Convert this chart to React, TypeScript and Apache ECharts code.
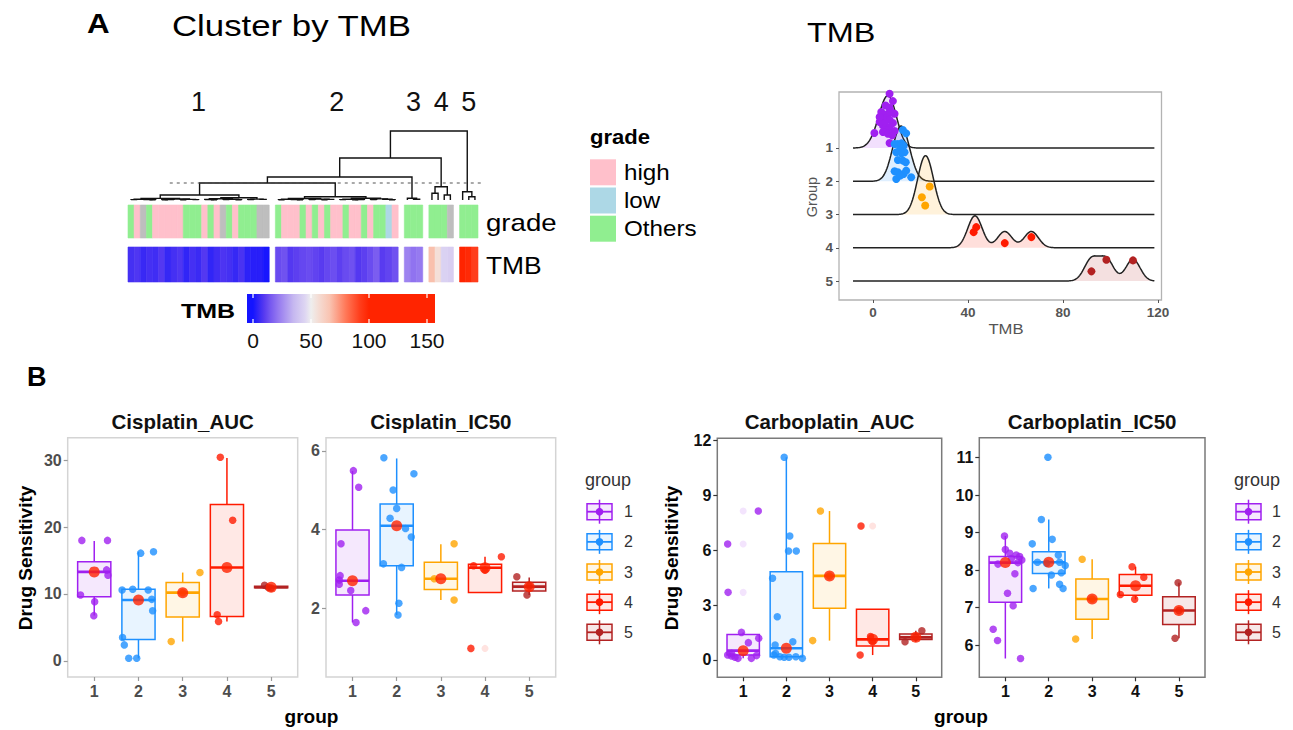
import React, { useEffect, useRef } from 'react';
import * as echarts from 'echarts';

const FONT = '"Liberation Sans", Arial, Helvetica, sans-serif';
const W = 1293;
const H = 730;

// ---------- groups ----------
const groupNames = ['1', '2', '3', '4', '5'];
const groupColors = ['#a020f0', '#1e90ff', '#ffa500', '#ff1a00', '#b22222'];
const medianDotColor = '#ff2200';

// ---------- panel A : annotation (grade) per sample, in dendrogram order ----------
const gradeLevels = ['high', 'low', 'Others'];
const gradeColors = ['#ffc0cb', '#add8e6', '#90ee90', '#bebebe']; // index 3 = NA
const gradeC1 = [2, 0, 3, 2, 0, 0, 0, 0, 0, 2, 2, 2, 0, 2, 0, 3, 2, 0, 2, 2, 2, 3, 3];
const gradeC2 = [2, 0, 0, 0, 2, 0, 2, 0, 2, 0, 0, 2, 0, 0, 2, 0, 2, 2, 1, 0];
const gradeC3 = [2, 2, 2];
const gradeC4 = [2, 2, 2, 3];
const gradeC5 = [2, 2, 2];

// ---------- TMB per sample (same order) and vertical jitter of ridge points ----------
const tmbC1 = [7.0, 8.4, 5.3, 7.0, 6.3, 9.1, 4.9, 7.0, 8.4, 4.2, 7.0, 5.6, 9.1, 4.2, 6.3, 8.1, 7.0, 4.9, 7.7, 3.5, 2.8, 2.8, 0.6];
const ridgeJitC1 = [1.63, 1.41, 1.28, 1.21, 1.03, 1.03, 0.93, 0.85, 0.75, 0.68, 0.63, 0.53, 0.51, 0.48, 0.43, 0.38, 0.15, 0.78, 1.08, 1.08, 0.78, 0.93, 0.45];
const tmbC2 = [12.6, 14.0, 9.1, 10.5, 12.0, 12.9, 11.2, 9.8, 12.0, 13.3, 10.5, 12.6, 13.8, 9.1, 10.5, 12.9, 16.1, 9.8, 11.5, 14.0];
const ridgeJitC2 = [1.54, 1.44, 1.12, 1.12, 1.14, 1.07, 0.92, 0.87, 0.84, 0.87, 0.64, 0.62, 0.57, 0.3, 0.27, 0.22, 0.12, 0.07, 0.17, 0.32];
const tmbC3 = [23.9, 20.6, 22.0];
const ridgeJitC3 = [0.84, 0.52, 0.27];
const tmbC4 = [66.7, 55.5, 43.5, 42.4];
const ridgeJitC4 = [0.32, 0.14, 0.62, 0.47];
const tmbC5 = [109.5, 98.3, 92.0];
const ridgeJitC5 = [0.62, 0.64, 0.29];

// ---------- dendrogram: [height, left, right], leaves = local sample index ----------
const treeC1 = [5,
  [1.6, [0.8, [0.4, 0, 1], [0.5, 2, [0.3, 3, 4]]], [1.0, [0.5, [0.2, 5, 6], 7], [0.6, [0.3, 8, 9], [0.4, 10, 11]]]],
  [2.2, [1.2, [0.5, 12, [0.3, 13, 14]], [0.7, [0.4, 15, 16], [0.3, 17, 18]]], [0.9, [0.5, 19, 20], [0.6, 21, 22]]]];
const treeC2 = [3.3,
  [1.5, [0.7, [0.3, 0, 1], [0.5, 2, [0.2, 3, 4]]], [0.9, [0.4, 5, 6], [0.6, [0.3, 7, 8], 9]]],
  [1.8, [0.8, [0.4, 10, 11], [0.5, [0.2, 12, 13], 14]], [1.1, [0.5, 15, 16], [0.7, 17, [0.3, 18, 19]]]]];
const treeC3 = [1.7, 0, [0.8, 1, 2]];
const treeC4 = [13.3, [6.7, 0, 1], [5, 2, 3]];
const treeC5 = [8.3, 0, [3.3, 1, 2]];
const upperTree = [69, [42, [23, [17, 'c0', 'c1'], 'c2'], 'c3'], 'c4'];
const cutHeight = 17;
const cutSpan = [6.3, 57.0];
const dendroMaxHeight = 69;

// ---------- TMB colour scale & legend ----------
const tmbColorStops = [
  [0, [20, 20, 255]], [5, [55, 40, 245]], [10, [90, 60, 240]], [15, [118, 88, 240]],
  [22, [150, 122, 240]], [35, [198, 184, 240]], [45, [222, 214, 242]], [50, [238, 238, 238]],
  [56, [244, 222, 214]], [66, [249, 196, 178]], [80, [255, 120, 88]], [92, [255, 62, 28]],
  [100, [255, 36, 0]], [160, [255, 36, 0]],
];
const tmbLegendTicks = [0, 50, 100, 150];
const tmbLegendRange = [-5.17, 156.9];

// ---------- ridge ----------
const ridgeXTicks = [0, 40, 80, 120];
const ridgeBandwidth = 3.0;
const ridgeScale = 1.77;

// ---------- panel B : drug sensitivity ----------
const drugTitles = ['Cisplatin_AUC', 'Cisplatin_IC50', 'Carboplatin_AUC', 'Carboplatin_IC50'];

// boxes: [lower whisker, Q1, median, Q3, upper whisker]
const cisAucBoxes = [[6.8, 9.6, 13.3, 14.8, 17.9], [0.4, 3.2, 9.1, 10.7, 16.3], [2.9, 6.55, 10.2, 11.7, 13.2], [5.9, 6.65, 13.95, 23.35, 30.3], [10.9, 10.95, 11.0, 11.15, 11.3]];
const cisAucValues = [[18.0, 18.0, 9.85, 8.86, 6.77, 13.6, 12.8], [16.1, 16.3, 10.6, 10.7, 10.6, 9.2, 7.5, 3.5, 2.4, 0.4, 0.4], [13.2, 10.2, 2.9], [30.4, 21.0, 6.9, 5.9], [11.3, 10.9, 11.0]];
const cisAucJitter = [[-0.28, 0.3, -0.31, 0.01, -0.01, 0.28, 0.31], [0.05, 0.34, -0.37, -0.13, 0.22, 0.3, 0.32, -0.36, -0.32, -0.22, -0.04], [0.39, 0.0, -0.26], [-0.15, 0.13, -0.22, -0.19], [-0.15, 0.0, -0.07]];
const cisAucOutliers = [[], [], [], [], []];
const cisAucTicks = [0, 10, 20, 30];

const cisIc50Boxes = [[1.64, 2.34, 2.7, 3.99, 5.49], [1.83, 3.08, 4.1, 4.65, 5.81], [2.21, 2.48, 2.75, 3.17, 3.63], [2.4, 2.4, 3.03, 3.12, 3.31], [2.34, 2.44, 2.55, 2.66, 2.78]];
const cisIc50Values = [[5.5, 5.08, 3.64, 2.83, 2.72, 2.61, 2.45, 1.94, 1.64], [5.83, 5.42, 5.01, 4.54, 4.29, 4.03, 3.81, 3.13, 3.04, 2.13, 1.83], [3.64, 2.75, 2.21], [3.31, 3.08, 2.97, 0.98], [2.8, 2.34, 2.57]];
const cisIc50Jitter = [[0.02, 0.14, -0.26, -0.28, -0.3, -0.3, -0.04, 0.3, 0.08], [-0.29, 0.39, -0.08, 0.0, -0.15, 0.2, 0.33, -0.3, 0.11, 0.05, 0.03], [0.3, -0.15, 0.3], [0.37, -0.26, 0.0, -0.32], [-0.28, -0.05, 0.0]];
const cisIc50Outliers = [[], [], [], [0.98], []];
const cisIc50Ticks = [2, 4, 6];

const carAucBoxes = [[0.09, 0.27, 0.51, 1.4, 1.51], [0.09, 0.18, 0.64, 4.83, 11.09], [1.06, 2.83, 4.6, 6.38, 8.15], [0.27, 0.77, 1.13, 2.77, 2.77], [1.0, 1.12, 1.24, 1.42, 1.6]];
const carAucValues = [[8.15, 6.35, 3.7, 1.51, 1.19, 0.95, 0.27, 0.22, 0.15, 0.09, 0.09, 0.36, 0.24], [11.09, 6.78, 5.96, 5.96, 4.47, 2.37, 0.82, 1.0, 0.36, 0.18, 0.15, 0.15, 0.18, 0.09, 0.27], [8.15, 4.6, 1.06], [7.33, 0.27, 1.28, 1.0], [1.6, 1.0, 1.24]];
const carAucJitter = [[0.35, -0.36, -0.35, -0.04, 0.36, 0.12, -0.36, -0.27, -0.19, -0.12, 0.19, -0.27, 0.31], [-0.05, 0.08, 0.05, 0.23, -0.32, -0.21, -0.26, 0.15, -0.25, -0.15, -0.05, 0.06, 0.22, 0.37, -0.29], [-0.21, 0.0, -0.39], [-0.27, -0.29, -0.05, 0.0], [0.14, -0.25, 0.0]];
const carAucOutliers = [[8.15, 6.35, 3.7], [], [], [7.33], []];
const carAucTicks = [0, 3, 6, 9, 12];

const carIc50Boxes = [[5.64, 7.14, 8.2, 8.36, 8.91], [7.51, 7.91, 8.21, 8.49, 9.35], [6.16, 6.69, 7.23, 7.76, 8.29], [7.22, 7.33, 7.58, 7.88, 8.09], [6.18, 6.55, 6.92, 7.29, 7.66]];
const carIc50Values = [[8.91, 8.55, 8.45, 8.4, 8.36, 8.27, 8.16, 7.9, 7.38, 7.05, 6.42, 6.12, 5.64, 8.2, 8.31], [11.01, 9.35, 8.82, 8.7, 8.21, 8.4, 8.21, 8.12, 7.93, 7.87, 7.62, 7.51, 7.51, 8.18], [8.29, 6.16, 7.23], [8.09, 7.81, 7.35, 7.22], [7.66, 6.18, 6.92]];
const carIc50Jitter = [[-0.02, 0.0, 0.1, 0.25, 0.33, 0.38, -0.17, 0.22, 0.05, 0.18, -0.28, -0.18, 0.35, 0.29, 0.14], [-0.02, -0.17, 0.08, -0.38, -0.26, 0.22, 0.25, 0.38, 0.29, 0.06, 0.25, 0.33, -0.36, -0.05], [-0.23, -0.38, 0.0], [-0.08, 0.19, -0.35, -0.02], [-0.02, -0.09, 0.0]];
const carIc50Outliers = [[], [11.01], [], [], []];
const carIc50Ticks = [6, 7, 8, 9, 10, 11];

// ---------- helpers ----------
function hexRgb(hex: string) {
  const n = parseInt(hex.slice(1), 16);
  return [(n >> 16) & 255, (n >> 8) & 255, n & 255];
}
function rgba(hex: string, a: number) {
  const [r, g, b] = hexRgb(hex);
  return `rgba(${r},${g},${b},${a})`;
}
function tmbColor(v: number) {
  const s = tmbColorStops as any[];
  if (v <= s[0][0]) return `rgb(${s[0][1].join(',')})`;
  for (let i = 1; i < s.length; i++) {
    if (v <= s[i][0]) {
      const t = (v - s[i - 1][0]) / (s[i][0] - s[i - 1][0]);
      const c = s[i - 1][1].map((c0: number, k: number) => Math.round(c0 + (s[i][1][k] - c0) * t));
      return `rgb(${c.join(',')})`;
    }
  }
  return `rgb(${s[s.length - 1][1].join(',')})`;
}

function txt(x: number, y: number, text: string, size: number, o: any = {}) {
  return {
    type: 'text', x, y, silent: true,
    scaleX: o.scaleX ?? 1, rotation: o.rotation ?? 0,
    style: {
      text, fontSize: size, fontFamily: FONT, fontWeight: o.bold ? 'bold' : 'normal',
      fill: o.color ?? '#000', align: o.align ?? 'left', verticalAlign: 'middle',
    },
  };
}

function buildOption() {
  const grid: any[] = [];
  const xAxis: any[] = [];
  const yAxis: any[] = [];
  const series: any[] = [];
  const els: any[] = [];
  const hidden = (gridIndex: number, min: number, max: number, inverse = false) => ({
    type: 'value', gridIndex, min, max, inverse, show: false, splitLine: { show: false }, axisLine: { onZero: false },
  });

  // ----- heatmap layout (clusters separated by one empty column) -----
  const clusterGrades = [gradeC1, gradeC2, gradeC3, gradeC4, gradeC5];
  const clusterTmb = [tmbC1, tmbC2, tmbC3, tmbC4, tmbC5];
  const clusterTrees: any[] = [treeC1, treeC2, treeC3, treeC4, treeC5];
  const ridgeJit = [ridgeJitC1, ridgeJitC2, ridgeJitC3, ridgeJitC4, ridgeJitC5];
  const clusterStart: number[] = [];
  let pos = 0;
  clusterGrades.forEach((g) => { clusterStart.push(pos); pos += g.length + 1; });
  const totalCols = pos - 1;

  // grid 0 dendrogram
  grid.push({ left: 128, top: 131, width: 350, height: 69 });
  xAxis.push(hidden(0, -0.5, totalCols - 0.5));
  yAxis.push(hidden(0, 0, dendroMaxHeight));
  // grid 1 grade row
  grid.push({ left: 128, top: 205, width: 350, height: 33 });
  xAxis.push(hidden(1, -0.5, totalCols - 0.5));
  yAxis.push(hidden(1, 0, 1));
  // grid 2 TMB row
  grid.push({ left: 128, top: 247, width: 350, height: 35 });
  xAxis.push(hidden(2, -0.5, totalCols - 0.5));
  yAxis.push(hidden(2, 0, 1));

  // dendrogram merges
  const merges: number[][] = [];
  const layout = (node: any, offset: number): { x: number; h: number } => {
    if (typeof node === 'number') return { x: offset + node, h: 0 };
    if (typeof node === 'string') {
      const k = parseInt(node.slice(1), 10);
      return layout(clusterTrees[k], clusterStart[k]);
    }
    const l = layout(node[1], offset);
    const r = layout(node[2], offset);
    merges.push([l.x, l.h, r.x, r.h, node[0]]);
    return { x: (l.x + r.x) / 2, h: node[0] };
  };
  layout(upperTree, 0);
  series.push({
    type: 'custom', xAxisIndex: 0, yAxisIndex: 0, data: merges, silent: true,
    renderItem: (_p: any, api: any) => {
      const a = api.coord([api.value(0), api.value(1)]);
      const b = api.coord([api.value(0), api.value(4)]);
      const c = api.coord([api.value(2), api.value(4)]);
      const d = api.coord([api.value(2), api.value(3)]);
      return { type: 'polyline', shape: { points: [a, b, c, d] }, style: { stroke: '#111', lineWidth: 1.4, fill: 'none' } };
    },
  });
  series.push({
    type: 'custom', xAxisIndex: 0, yAxisIndex: 0, data: [[cutSpan[0], cutSpan[1], cutHeight]], silent: true,
    renderItem: (_p: any, api: any) => {
      const a = api.coord([api.value(0), api.value(2)]);
      const b = api.coord([api.value(1), api.value(2)]);
      return { type: 'line', shape: { x1: a[0], y1: a[1], x2: b[0], y2: b[1] }, style: { stroke: '#555', lineWidth: 1.2, lineDash: [3, 4] } };
    },
  });
  // cluster numbers above the dendrogram
  const clusterCenters = clusterGrades.map((g, c) => [clusterStart[c] + (g.length - 1) / 2, 98, c]);
  series.push({
    type: 'custom', xAxisIndex: 0, yAxisIndex: 0, data: clusterCenters, silent: true,
    renderItem: (_p: any, api: any) => {
      const p = api.coord([api.value(0), api.value(1)]);
      return { type: 'text', x: p[0], y: p[1], style: { text: groupNames[api.value(2)], fontSize: 27, fontFamily: FONT, fill: '#111', align: 'center', verticalAlign: 'middle' } };
    },
  });

  // grade cells
  const gradeCells: number[][] = [];
  const tmbCells: number[][] = [];
  clusterGrades.forEach((g, c) => g.forEach((code, i) => gradeCells.push([clusterStart[c] + i, code])));
  clusterTmb.forEach((t, c) => t.forEach((v, i) => tmbCells.push([clusterStart[c] + i, v])));
  const cellRender = (colorOf: (v: number) => string) => (_p: any, api: any) => {
    const x = api.value(0);
    const a = api.coord([x - 0.5, 1]);
    const b = api.coord([x + 0.5, 0]);
    const col = colorOf(api.value(1));
    return { type: 'rect', shape: { x: a[0], y: a[1], width: b[0] - a[0], height: b[1] - a[1] }, style: { fill: col, stroke: col, lineWidth: 0.6 } };
  };
  series.push({ type: 'custom', xAxisIndex: 1, yAxisIndex: 1, data: gradeCells, silent: true, renderItem: cellRender((v) => gradeColors[v]) });
  series.push({ type: 'custom', xAxisIndex: 2, yAxisIndex: 2, data: tmbCells, silent: true, renderItem: cellRender(tmbColor) });

  // grid 3 TMB colour legend
  grid.push({ left: 247, top: 294, width: 188, height: 29 });
  xAxis.push({
    type: 'value', gridIndex: 3, min: tmbLegendRange[0], max: tmbLegendRange[1],
    axisLine: { show: false, onZero: false }, splitLine: { show: false },
    axisTick: { show: false },
    axisLabel: { customValues: tmbLegendTicks, fontSize: 21, fontFamily: FONT, color: '#111', margin: 7 },
  });
  yAxis.push(hidden(3, 0, 1));
  series.push({
    type: 'custom', xAxisIndex: 3, yAxisIndex: 3, silent: true,
    data: [[tmbLegendRange[0], tmbLegendRange[1]]],
    renderItem: (_p: any, api: any) => {
      const v0 = api.value(0), v1 = api.value(1);
      const a = api.coord([v0, 1]);
      const b = api.coord([v1, 0]);
      const stops: any[] = [{ offset: 0, color: tmbColor(v0) }];
      (tmbColorStops as any[]).forEach((s) => {
        if (s[0] > v0 && s[0] < v1) stops.push({ offset: (s[0] - v0) / (v1 - v0), color: tmbColor(s[0]) });
      });
      stops.push({ offset: 1, color: tmbColor(v1) });
      const children: any[] = [{
        type: 'rect', shape: { x: a[0], y: a[1], width: b[0] - a[0], height: b[1] - a[1] },
        style: { fill: new echarts.graphic.LinearGradient(0, 0, 1, 0, stops) },
      }];
      tmbLegendTicks.forEach((t) => {
        const p = api.coord([t, 0]);
        children.push({ type: 'line', shape: { x1: p[0], y1: a[1], x2: p[0], y2: a[1] + 4 }, style: { stroke: '#fff', lineWidth: 1.2 } });
        children.push({ type: 'line', shape: { x1: p[0], y1: b[1] - 4, x2: p[0], y2: b[1] }, style: { stroke: '#fff', lineWidth: 1.2 } });
      });
      return { type: 'group', children };
    },
  });

  // grid 4 ridge plot
  grid.push({ left: 839, top: 92, width: 322.5, height: 208, show: true, borderColor: '#b3b3b3', borderWidth: 1.3, backgroundColor: 'transparent' });
  xAxis.push({
    type: 'value', gridIndex: 4, min: -14.3, max: 121.5, position: 'bottom',
    axisLine: { show: false, onZero: false }, splitLine: { show: false },
    axisTick: { show: true, customValues: ridgeXTicks, length: 3, lineStyle: { color: '#555', width: 1 } },
    axisLabel: { customValues: ridgeXTicks, fontSize: 13.5, fontWeight: 'bold', fontFamily: FONT, color: '#555', margin: 5 },
  });
  const ridgeYTicks = groupNames.map((_, i) => i + 1);
  yAxis.push({
    type: 'value', gridIndex: 4, min: -0.684, max: 5.571, inverse: true, position: 'left',
    axisLine: { show: false, onZero: false }, splitLine: { show: false },
    axisTick: { show: true, customValues: ridgeYTicks, length: 3, lineStyle: { color: '#555', width: 1 } },
    axisLabel: { customValues: ridgeYTicks, fontSize: 13.5, fontWeight: 'bold', fontFamily: FONT, color: '#555', margin: 6 },
  });
  const allT = clusterTmb.flat();
  const lo = Math.min(...allT) - 3 * ridgeBandwidth;
  const hi = Math.max(...allT) + 3 * ridgeBandwidth;
  const NG = 320;
  const xs = Array.from({ length: NG }, (_, i) => lo + ((hi - lo) * i) / (NG - 1));
  const dens = clusterTmb.map((arr) => xs.map((x) =>
    arr.reduce((s, v) => s + Math.exp(-0.5 * ((x - v) / ridgeBandwidth) ** 2), 0) / (arr.length * ridgeBandwidth * Math.sqrt(2 * Math.PI))));
  const maxD = Math.max(...dens.flat());
  clusterTmb.forEach((_, g) => {
    series.push({
      type: 'line', xAxisIndex: 4, yAxisIndex: 4, symbol: 'none', silent: true, clip: false,
      data: xs.map((x, i) => [x, g + 1 - (dens[g][i] / maxD) * ridgeScale]),
      lineStyle: { color: '#222', width: 1.5 },
      areaStyle: { color: rgba(groupColors[g], 0.2), origin: g + 1 },
      z: 2 + g,
    });
  });
  clusterTmb.forEach((arr, g) => {
    series.push({
      type: 'scatter', xAxisIndex: 4, yAxisIndex: 4, symbolSize: 8, silent: true, z: 10,
      itemStyle: { color: groupColors[g], opacity: 1 },
      data: arr.map((v, i) => [v, g + 1 - ridgeJit[g][i]]),
    });
  });

  // ----- panel B -----
  const panels = [
    { title: drugTitles[0], boxes: cisAucBoxes, values: cisAucValues, jitter: cisAucJitter, outliers: cisAucOutliers, ticks: cisAucTicks, left: 67.7, top: 437.7, width: 230, height: 239.3, yMin: -2.39, yMax: 33.33, dark: false },
    { title: drugTitles[1], boxes: cisIc50Boxes, values: cisIc50Values, jitter: cisIc50Jitter, outliers: cisIc50Outliers, ticks: cisIc50Ticks, left: 326, top: 437.7, width: 229.7, height: 239.3, yMin: 0.253, yMax: 6.338, dark: false },
    { title: drugTitles[2], boxes: carAucBoxes, values: carAucValues, jitter: carAucJitter, outliers: carAucOutliers, ticks: carAucTicks, left: 717.3, top: 438.3, width: 224.4, height: 239, yMin: -0.947, yMax: 12.13, dark: true },
    { title: drugTitles[3], boxes: carIc50Boxes, values: carIc50Values, jitter: carIc50Jitter, outliers: carIc50Outliers, ticks: carIc50Ticks, left: 979.3, top: 437.7, width: 225.7, height: 239.6, yMin: 5.138, yMax: 11.534, dark: true },
  ];
  const xCats = groupNames.map((_, i) => i + 1);
  panels.forEach((p, k) => {
    const gi = 5 + k;
    const frame = p.dark ? '#7a7a7a' : '#d4d4d4';
    const tickCol = p.dark ? '#333' : '#9a9a9a';
    const labCol = p.dark ? '#111' : '#4d4d4d';
    grid.push({ left: p.left, top: p.top, width: p.width, height: p.height, show: true, borderColor: frame, borderWidth: 1.5, backgroundColor: 'transparent' });
    xAxis.push({
      type: 'value', gridIndex: gi, min: 0.4, max: 5.6, position: 'bottom',
      axisLine: { show: false, onZero: false }, splitLine: { show: false },
      axisTick: { show: true, customValues: xCats, length: 4, lineStyle: { color: tickCol, width: 1.2 } },
      axisLabel: { customValues: xCats, formatter: (v: number) => groupNames[Math.round(v) - 1], fontSize: 16, fontWeight: 'bold', fontFamily: FONT, color: labCol, margin: 6 },
    });
    yAxis.push({
      type: 'value', gridIndex: gi, min: p.yMin, max: p.yMax, position: 'left',
      axisLine: { show: false, onZero: false }, splitLine: { show: false },
      axisTick: { show: true, customValues: p.ticks, length: 4, lineStyle: { color: tickCol, width: 1.2 } },
      axisLabel: { customValues: p.ticks, fontSize: 16, fontWeight: 'bold', fontFamily: FONT, color: labCol, margin: 6 },
    });
    series.push({
      type: 'custom', xAxisIndex: gi, yAxisIndex: gi, silent: true, z: 2,
      data: p.boxes.map((b, g) => [g + 1, ...b, g]),
      renderItem: (_pp: any, api: any) => {
        const x = api.value(0);
        const g = api.value(6);
        const col = groupColors[g];
        const pl = api.coord([x, api.value(1)]);
        const q1 = api.coord([x, api.value(2)]);
        const md = api.coord([x, api.value(3)]);
        const q3 = api.coord([x, api.value(4)]);
        const ph = api.coord([x, api.value(5)]);
        const hw = api.size([0.75, 0])[0] / 2;
        return {
          type: 'group', children: [
            { type: 'line', shape: { x1: pl[0], y1: q1[1], x2: pl[0], y2: pl[1] }, style: { stroke: col, lineWidth: 1.5 } },
            { type: 'line', shape: { x1: ph[0], y1: q3[1], x2: ph[0], y2: ph[1] }, style: { stroke: col, lineWidth: 1.5 } },
            { type: 'rect', shape: { x: q3[0] - hw, y: q3[1], width: 2 * hw, height: q1[1] - q3[1] }, style: { fill: rgba(col, 0.1), stroke: col, lineWidth: 1.5 } },
            { type: 'line', shape: { x1: md[0] - hw, y1: md[1], x2: md[0] + hw, y2: md[1] }, style: { stroke: col, lineWidth: 2.6 } },
          ],
        };
      },
    });
    const outl: any[] = [];
    p.outliers.forEach((arr, g) => arr.forEach((v) => outl.push({ value: [g + 1, v], itemStyle: { color: groupColors[g], opacity: 0.12 } })));
    series.push({ type: 'scatter', xAxisIndex: gi, yAxisIndex: gi, symbolSize: 7, silent: true, z: 3, data: outl });
    const pts: any[] = [];
    p.values.forEach((arr, g) => arr.forEach((v, i) => pts.push({ value: [g + 1 + p.jitter[g][i], v], itemStyle: { color: groupColors[g] } })));
    series.push({ type: 'scatter', xAxisIndex: gi, yAxisIndex: gi, symbolSize: 7.5, silent: true, z: 4, data: pts });
    series.push({
      type: 'scatter', xAxisIndex: gi, yAxisIndex: gi, symbolSize: 11, silent: true, z: 5,
      itemStyle: { color: medianDotColor }, data: p.boxes.map((b, g) => [g + 1, b[2]]),
    });
    els.push(txt(p.left + p.width / 2, 421.5, p.title, 20.5, { bold: true, align: 'center', color: '#111' }));
  });

  // ----- texts, legends -----
  els.push(txt(87, 23, 'A', 28, { bold: true, scaleX: 1.12 }));
  els.push(txt(172, 26, 'Cluster by TMB', 29, { scaleX: 1.2 }));
  els.push(txt(807, 32, 'TMB', 27, { scaleX: 1.2 }));
  els.push(txt(486, 223, 'grade', 24, { scaleX: 1.15 }));
  els.push(txt(486, 265, 'TMB', 24, { scaleX: 1.1 }));
  els.push(txt(181, 311, 'TMB', 20, { bold: true, scaleX: 1.25 }));
  els.push(txt(590, 137, 'grade', 21, { bold: true, scaleX: 1.05 }));
  gradeLevels.forEach((name, i) => {
    const y = 159.3 + i * 28.2;
    els.push({ type: 'rect', silent: true, shape: { x: 590, y, width: 26, height: 26 }, style: { fill: gradeColors[i] } });
    els.push(txt(624, y + 13, name, 22, { scaleX: 1.1 }));
  });
  els.push(txt(812, 197, 'Group', 14.5, { rotation: Math.PI / 2, align: 'center', color: '#555' }));
  els.push(txt(1006, 329, 'TMB', 14.5, { align: 'center', color: '#555', scaleX: 1.15 }));

  els.push(txt(27, 377, 'B', 27, { bold: true }));
  els.push(txt(25, 558, 'Drug Sensitivity', 19, { bold: true, rotation: Math.PI / 2, align: 'center' }));
  els.push(txt(671.5, 558, 'Drug Sensitivity', 19, { bold: true, rotation: Math.PI / 2, align: 'center' }));
  els.push(txt(311.5, 716, 'group', 19, { bold: true, align: 'center' }));
  els.push(txt(961, 716, 'group', 19, { bold: true, align: 'center' }));

  const legend = (x0: number, xl: number) => {
    els.push(txt(x0 - 2, 480, 'group', 18, { color: '#333' }));
    groupNames.forEach((name, g) => {
      const cy = 511.7 + g * 30.15;
      const col = groupColors[g];
      const cx = x0 + 12.5;
      els.push({ type: 'line', silent: true, shape: { x1: cx, y1: cy - 12, x2: cx, y2: cy + 12 }, style: { stroke: col, lineWidth: 1.5 } });
      els.push({ type: 'rect', silent: true, shape: { x: x0, y: cy - 8, width: 25, height: 16 }, style: { fill: rgba(col, 0.1), stroke: col, lineWidth: 1.5 } });
      els.push({ type: 'line', silent: true, shape: { x1: x0, y1: cy, x2: x0 + 25, y2: cy }, style: { stroke: col, lineWidth: 1.8 } });
      els.push({ type: 'circle', silent: true, shape: { cx, cy, r: 3.8 }, style: { fill: col } });
      els.push(txt(xl, cy, name, 16, { color: '#333' }));
    });
  };
  legend(587, 624);
  legend(1236, 1272);

  return {
    animation: false,
    backgroundColor: '#fff',
    grid, xAxis, yAxis, series,
    graphic: { elements: els },
  };
}

export default function App() {
  const ref = useRef<HTMLDivElement>(null);
  useEffect(() => {
    if (!ref.current) return;
    const chart = echarts.init(ref.current, null, { renderer: 'svg', width: W, height: H });
    chart.setOption(buildOption() as any);
    return () => chart.dispose();
  }, []);
  return <div ref={ref} style={{ position: 'absolute', left: 0, top: 0, width: W, height: H, background: '#fff' }} />;
}
